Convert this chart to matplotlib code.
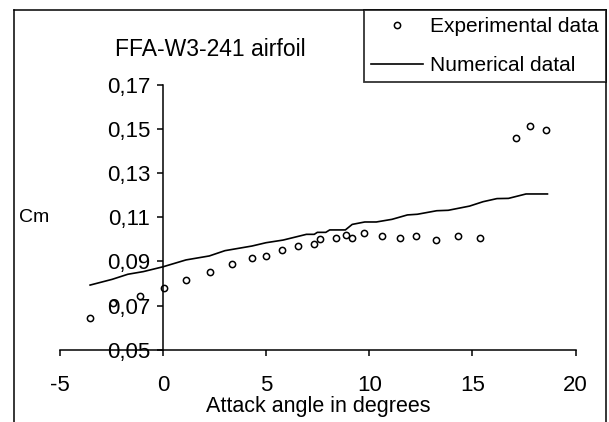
import matplotlib
matplotlib.use('Agg')
import matplotlib.pyplot as plt
from matplotlib.lines import Line2D

plt.rcParams['font.family'] = ['Liberation Sans', 'DejaVu Sans']
plt.rcParams['axes.unicode_minus'] = False

# experimental points (angle in degrees, Cm)
exp_alpha = [-3.56, -2.43, -1.11, 0.04, 1.11, 2.28, 3.33, 4.31, 4.99, 5.76,
             6.54, 7.33, 7.61, 8.38, 8.87, 9.17, 9.74, 10.63, 11.49, 12.26,
             13.24, 14.32, 15.37, 17.11, 17.78, 18.58]
exp_cm = [0.0645, 0.0710, 0.0745, 0.0781, 0.0817, 0.0854, 0.0890, 0.0917, 0.0926, 0.0953,
          0.0972, 0.0981, 0.1000, 0.1008, 0.1018, 0.1008, 0.1027, 0.1017, 0.1008, 0.1017,
          0.0999, 0.1017, 0.1008, 0.1461, 0.1516, 0.1498]

# numerical curve
num_alpha = [-3.54, -2.47, -1.71, -0.96, 0.0, 1.11, 2.24, 3.0, 4.31, 4.99, 5.82,
             6.95, 7.33, 7.48, 7.89, 8.08, 8.84, 9.17, 9.78, 10.34, 11.1, 11.85,
             12.33, 13.27, 13.83, 14.86, 15.52, 16.19, 16.75, 17.6, 18.64]
num_cm = [0.0793, 0.0819, 0.0842, 0.0854, 0.0876, 0.0907, 0.0925, 0.0949, 0.0970, 0.0985, 0.0997,
          0.1023, 0.1023, 0.1032, 0.1032, 0.1043, 0.1043, 0.1068, 0.1079, 0.1079, 0.1091, 0.1111,
          0.1114, 0.1130, 0.1132, 0.1151, 0.1171, 0.1185, 0.1186, 0.1206, 0.1206]

xticks = [-5, 0, 5, 10, 15, 20]
yticks = [0.05, 0.07, 0.09, 0.11, 0.13, 0.15, 0.17]
ytick_labels = ['0,05', '0,07', '0,09', '0,11', '0,13', '0,15', '0,17']

W, H = 609, 422
fig = plt.figure(figsize=(W / 100, H / 100), dpi=100)
ax = fig.add_axes([60 / W, 1 - 349.7 / H, 515.5 / W, 264.7 / H])
ax.patch.set_alpha(0)

ax.plot(num_alpha, num_cm, color='black', lw=1.2, label='Numerical datal')
ax.plot(exp_alpha, exp_cm, ls='none', marker='o', ms=4.5, mfc='white', mec='black',
        mew=1.1, label='Experimental data')

ax.set_xlim(-5, 20)
ax.set_ylim(0.05, 0.17)
ax.spines['left'].set_position(('data', 0))
ax.spines['top'].set_visible(False)
ax.spines['right'].set_visible(False)
for s in ['left', 'bottom']:
    ax.spines[s].set_linewidth(1.1)
ax.set_xticks(xticks)
ax.set_yticks(yticks)
ax.set_yticklabels(ytick_labels)
ax.tick_params(axis='x', direction='out', length=4.3, width=1.1, pad=14, labelsize=16)
ax.tick_params(axis='y', direction='out', length=4.3, width=1.1, pad=5, labelsize=16)
ax.set_xlabel('Attack angle in degrees', fontsize=15.5, labelpad=0)

fig.text(210.7 / W, 1 - 50 / H, 'FFA-W3-241 airfoil', fontsize=16.5, ha='center', va='center')
fig.text(19.4 / W, 1 - 218 / H, 'Cm', fontsize=14, ha='left', va='center')

# outer frame (bottom edge cut off)
x0, x1, yt = 14 / W, 606 / W, 1 - 10 / H
for xs, ys in [([x0, x0], [0, yt]), ([x0, x1], [yt, yt]), ([x1, x1], [yt, 0])]:
    fig.add_artist(Line2D(xs, ys, color='black', lw=1.1, transform=fig.transFigure))

h, l = ax.get_legend_handles_labels()
leg = fig.legend(h[::-1], l[::-1], loc='upper right', bbox_to_anchor=(x1, yt),
                 bbox_transform=fig.transFigure, borderaxespad=0, fontsize=15,
                 frameon=True, fancybox=False, handlelength=2.5, handletextpad=0.33,
                 labelspacing=0.95, borderpad=0.35)
leg.get_frame().set_edgecolor('black')
leg.get_frame().set_linewidth(1.3)

fig.savefig('out.png', dpi=100)
